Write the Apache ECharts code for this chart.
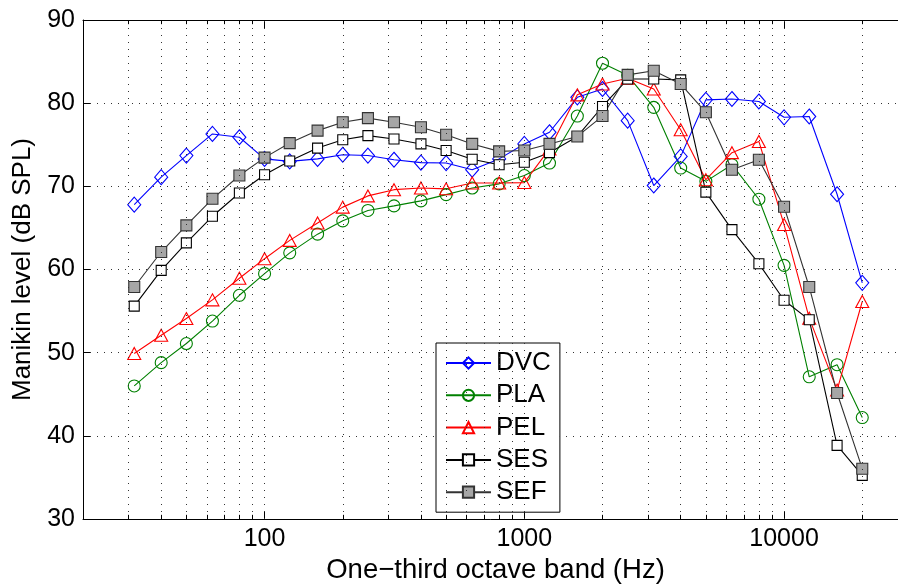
<!DOCTYPE html>
<html><head><meta charset="utf-8">
<script src="https://cdn.jsdelivr.net/npm/echarts@6/dist/echarts.min.js"></script>
<style>html,body{margin:0;padding:0;background:#fff}#c{width:898px;height:584px}</style>
</head><body><div id="c"></div>
<script>
// One-third octave band centre frequencies (Hz)
const freqs = [31.5,40,50,63,80,100,125,160,200,250,315,400,500,630,800,1000,1250,1600,2000,2500,3150,4000,5000,6300,8000,10000,12500,16000,20000];
// Manikin level (dB SPL)
const dvc = [67.8,71.1,73.7,76.3,75.9,73.3,73.0,73.3,73.8,73.7,73.2,72.85,72.8,72.0,73.3,75.1,76.5,80.7,81.7,77.9,70.1,73.6,80.4,80.5,80.2,78.3,78.4,69.05,58.4];
const pla = [46.0,48.8,51.1,53.8,56.9,59.5,62.0,64.25,65.85,67.1,67.65,68.25,69.0,69.8,70.3,71.3,72.8,78.45,84.8,83.35,79.5,72.2,70.6,72.6,68.45,60.5,47.1,48.55,42.2];
const pel = [49.9,52.1,54.1,56.35,58.95,61.3,63.5,65.6,67.5,68.85,69.6,69.8,69.7,70.4,70.4,70.45,74.5,81.0,82.3,83.0,81.7,76.8,70.8,74.05,75.4,65.4,54.15,45.5,56.15];
const ses = [55.6,59.9,63.2,66.4,69.2,71.4,73.05,74.6,75.6,76.1,75.7,75.1,74.3,73.25,72.6,72.9,74.05,76.0,79.6,82.9,82.9,82.8,69.3,64.8,60.7,56.3,53.95,38.85,35.25];
const sef = [57.9,62.1,65.3,68.5,71.3,73.45,75.2,76.7,77.7,78.2,77.7,77.1,76.2,75.1,74.2,74.3,75.1,76.0,78.45,83.4,83.9,82.3,78.9,72.0,73.2,67.55,57.9,45.15,36.05];
const seriesNames = ['DVC','PLA','PEL','SES','SEF'];
// Axis ticks
const xMajorTicks = [100,1000,10000];
const xMinorTicks = [30,40,50,60,70,80,90,200,300,400,500,600,700,800,900,2000,3000,4000,5000,6000,7000,8000,9000,20000];
const yTicks = [30,40,50,60,70,80,90];

const FONT = 'Liberation Sans, Arial, Helvetica, sans-serif';
const X_MIN = 20, X_MAX = 30000, Y_MIN = 30, Y_MAX = 90;
const minorTickLen = 0.5; // in dB units (~4px)

function pts(arr){ return freqs.map((f,i)=>[f,arr[i]]); }

const gridLineData = xMinorTicks.concat(xMajorTicks).map(v=>({xAxis:v}));
const minorTickData = [];
xMinorTicks.forEach(v=>{
  minorTickData.push([{coord:[v,Y_MIN]},{coord:[v,Y_MIN+minorTickLen]}]);
  minorTickData.push([{coord:[v,Y_MAX-minorTickLen]},{coord:[v,Y_MAX]}]);
});

function mk(name, data, color, lineColor, fill, symbol, size){
  return {
    name, type:'line', data:pts(data), symbol, symbolSize:size,
    showAllSymbol:true, animation:false, z:3,
    lineStyle:{color:lineColor, width:1.1},
    itemStyle:{color:fill, borderColor:color, borderWidth:1.1},
    emphasis:{disabled:true}
  };
}

const chart = echarts.init(document.getElementById('c'), null, {renderer:'canvas'});
chart.setOption({
  backgroundColor:'#fff',
  animation:false,
  textStyle:{fontFamily:FONT},
  grid:{left:83, top:20, right:-10, bottom:65, containLabel:false, outerBoundsMode:'none'},
  legend:{
    data:seriesNames, orient:'vertical', left:436, top:343,
    padding:[7,9,7,9], itemGap:6.3, itemWidth:45, itemHeight:14,
    backgroundColor:'#fff', borderColor:'#000', borderWidth:1,
    selectedMode:false,
    textStyle:{fontSize:26, fontFamily:FONT, color:'#000', lineHeight:26}
  },
  xAxis:[{
    type:'log', logBase:10, min:X_MIN, max:X_MAX, position:'bottom',
    name:'One\u2212third octave band (Hz)', nameLocation:'middle', nameGap:37,
    nameTextStyle:{fontSize:27.5, color:'#000', fontFamily:FONT},
    axisLine:{show:true, lineStyle:{color:'#000', width:1}},
    axisTick:{show:true, inside:true, length:8, lineStyle:{color:'#000'}},
    axisLabel:{fontSize:25, color:'#000', fontFamily:FONT, margin:8,
      formatter:v=>{const r=Math.round(v); return xMajorTicks.includes(r)?String(r):'';}},
    splitLine:{show:false}
  },{
    type:'log', logBase:10, min:X_MIN, max:X_MAX, position:'top',
    axisLine:{show:true, lineStyle:{color:'#000', width:1}},
    axisTick:{show:true, inside:true, length:8, lineStyle:{color:'#000'}},
    axisLabel:{show:false}, splitLine:{show:false}
  }],
  yAxis:[{
    type:'value', min:Y_MIN, max:Y_MAX, interval:10,
    name:'Manikin level (dB SPL)', nameLocation:'middle', nameGap:44,
    nameTextStyle:{fontSize:26, color:'#000', fontFamily:FONT},
    axisLine:{show:true, lineStyle:{color:'#000', width:1}},
    axisTick:{show:true, inside:true, length:7, lineStyle:{color:'#000'}},
    axisLabel:{fontSize:25, color:'#000', fontFamily:FONT, margin:8},
    splitLine:{show:true, lineStyle:{color:'#333', width:1, type:[1,6]}}
  }],
  series:[
    {
      name:'grid', type:'line', data:[], silent:true, z:1,
      markLine:{silent:true, symbol:['none','none'], animation:false,
        label:{show:false}, lineStyle:{color:'#333', width:1, type:[1,6]},
        emphasis:{disabled:true}, data:gridLineData}
    },
    {
      name:'ticks', type:'line', data:[], silent:true, z:2,
      markLine:{silent:true, symbol:['none','none'], animation:false,
        label:{show:false}, lineStyle:{color:'#000', width:1, type:'solid'},
        emphasis:{disabled:true}, data:minorTickData}
    },
    mk('DVC', dvc, '#0000ff', '#0000ff', 'rgba(0,0,0,0)', 'diamond', [13,15]),
    mk('PLA', pla, '#008000', '#008000', 'rgba(0,0,0,0)', 'circle', 12),
    mk('PEL', pel, '#ff0000', '#ff0000', 'rgba(0,0,0,0)', 'triangle', [13,12]),
    mk('SES', ses, '#000000', '#000000', '#ffffff', 'rect', 10),
    mk('SEF', sef, '#333333', '#333333', '#a6a6a6', 'rect', 11)
  ]
});
</script>
</body></html>
